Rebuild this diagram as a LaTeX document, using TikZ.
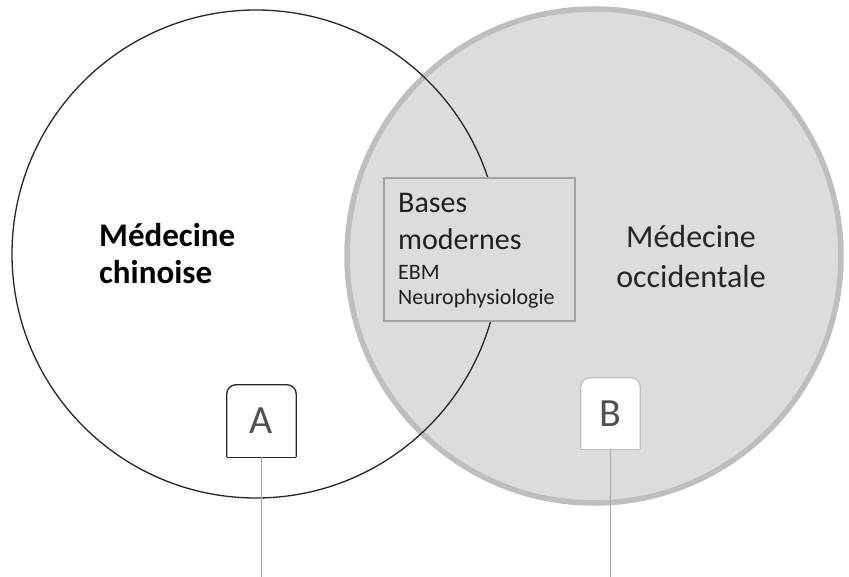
\documentclass[tikz,border=0pt]{standalone}
\usepackage{fontspec}
\setmainfont{Carlito}
\definecolor{circfill}{HTML}{DCDCDC}
\definecolor{circline}{HTML}{BEBEBE}
\definecolor{boxline}{HTML}{A4A4A4}
\definecolor{stemline}{HTML}{A8A8A8}
\definecolor{lettergray}{HTML}{505050}
\tikzset{
  lbl/.style={inner sep=0pt, anchor=base west, text=black!88},
  tagbox/.style={inner sep=0pt, text=lettergray, font=\fontsize{40}{40}\selectfont},
  stem/.style={draw=stemline, line width=1pt},
}
\begin{document}
\begin{tikzpicture}[x=1pt,y=-1pt]
\useasboundingbox (0,0) rectangle (849,577);
% right circle
\node[circle, fill=circfill, draw=circline, line width=5.5pt, minimum size=494pt, inner sep=0pt] (occ) at (594,256) {};
% left circle (outline only)
\node[circle, draw=black!85, line width=1.3pt, minimum size=488pt, inner sep=0pt] (chi) at (256,254) {};
% central box
\node[rectangle, fill=circfill, draw=boxline, line width=1.2pt, minimum width=191pt, minimum height=143pt, inner sep=0pt] (mid) at (479.5,249.5) {};
\node[lbl, font=\fontsize{30}{30}\selectfont] (bases) at (398,213) {Bases};
\node[lbl, font=\fontsize{30}{30}\selectfont] (modernes) at (398,250) {modernes};
\node[lbl, font=\fontsize{22}{22}\selectfont] (ebm) at (398,280) {EBM};
\node[lbl, font=\fontsize{22}{22}\selectfont] (neuro) at (398,305) {Neurophysiologie};
% left label
\node[lbl, font=\fontsize{33}{33}\selectfont\bfseries, text=black] (chin1) at (99,247) {Médecine};
\node[lbl, font=\fontsize{33}{33}\selectfont\bfseries, text=black] (chin2) at (99,284) {chinoise};
% right label
\node[inner sep=0pt, anchor=base, font=\fontsize{32}{32}\selectfont, text=black!85] (occ1) at (691,248) {Médecine};
\node[inner sep=0pt, anchor=base, font=\fontsize{32}{32}\selectfont, text=black!85] (occ2) at (691,288) {occidentale};
% tag A
\node[tagbox, minimum width=69pt, minimum height=72pt] (A) at (261.5,421) {A};
\path[fill=white, draw=black!85, line width=1.3pt, rounded corners=9pt] (A.south west) -- (A.north west) -- (A.north east) -- (A.south east);
\draw[black!85, line width=1.3pt] (A.south west) -- (A.south east);
\node[tagbox] at (A.center) {A};
% tag B
\node[tagbox, minimum width=59pt, minimum height=71pt] (B) at (610.5,413.5) {B};
\path[fill=white, draw=circline, line width=1.2pt, rounded corners=9pt] (B.south west) -- (B.north west) -- (B.north east) -- (B.south east);
\draw[circline, line width=1.2pt] (B.south west) -- (B.south east);
\node[tagbox] at (B.center) {B};
% stems
\coordinate (Aend) at (261,577);
\coordinate (Bend) at (609,577);
\draw[stem] (A.south) -- (A.south |- Aend);
\draw[stem] (B.south) -- (B.south |- Bend);
\end{tikzpicture}
\end{document}
